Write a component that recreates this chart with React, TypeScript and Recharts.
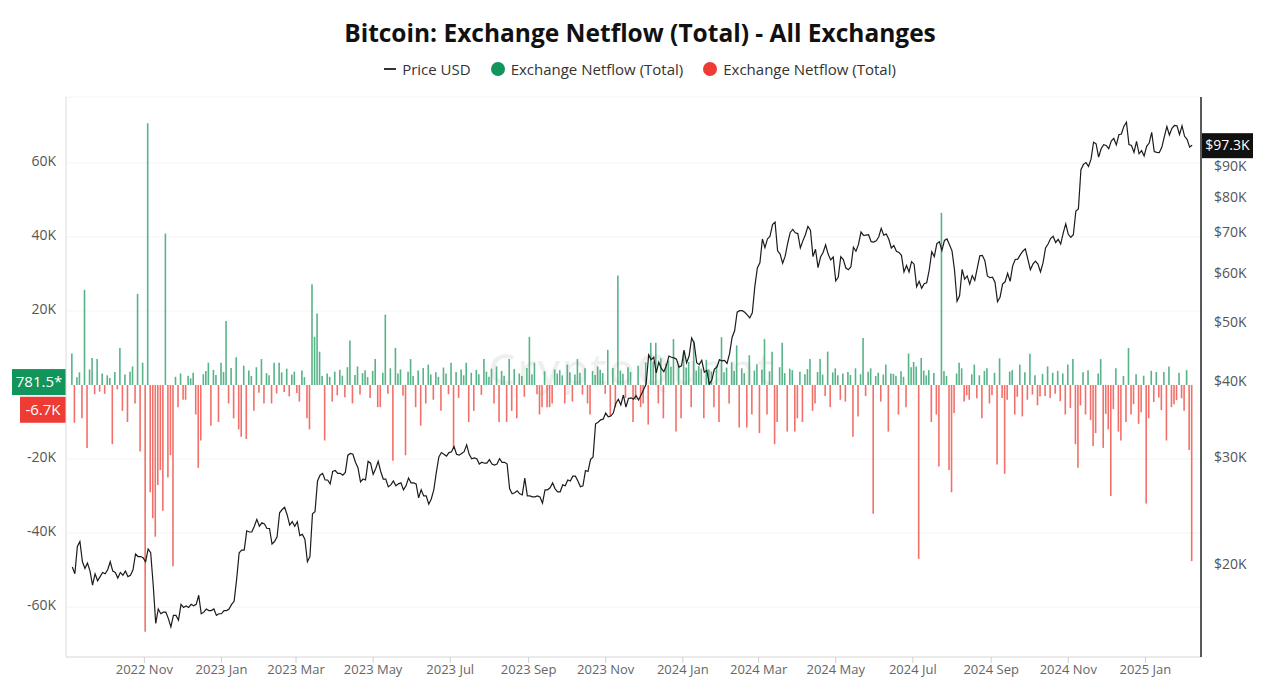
import {
  Bar,
  CartesianGrid,
  Cell,
  ComposedChart,
  Line,
  ReferenceLine,
  XAxis,
  YAxis,
} from "recharts";

// days counted from 2022-09-01; one point every 2 days starting 2022-09-05
const START_DAY = 4;
const STEP = 2;

const MONTH_TICKS = [61, 122, 181, 242, 303, 365, 426, 487, 547, 608, 669, 731, 792, 853];
const MONTH_LABELS = [
  "2022 Nov", "2023 Jan", "2023 Mar", "2023 May", "2023 Jul", "2023 Sep", "2023 Nov",
  "2024 Jan", "2024 Mar", "2024 May", "2024 Jul", "2024 Sep", "2024 Nov", "2025 Jan",
];

const NETFLOW_TICKS = [-60, -40, -20, 20, 40, 60];
const PRICE_TICKS = [20, 30, 40, 50, 60, 70, 80, 90];

// BTC price, thousands USD
const PRICE_K = [
  // 2022 Sep
  19.8, 19.3, 21.4, 21.8, 20.2, 19.7, 20.1, 19.5, 18.5, 19.3, 18.8, 19.1, 19.4,
  // Oct
  19.3, 19.6, 20.2, 19.5, 19.4, 19.0, 19.4, 19.2, 19.5, 19.1, 19.2, 19.6, 20.8, 20.6, 20.6, 20.5,
  // Nov
  20.2, 21.2, 20.9, 18.5, 16.0, 16.9, 16.6, 16.7, 16.7, 16.3, 15.8, 16.5, 16.5, 16.2, 17.2,
  // Dec
  17.0, 17.1, 17.0, 17.2, 17.1, 17.2, 17.8, 16.6, 16.7, 16.9, 16.8, 16.8, 16.9, 16.5, 16.6,
  // 2023 Jan
  16.6, 16.8, 16.8, 16.9, 17.2, 17.4, 18.9, 20.9, 21.1, 21.1, 22.7, 22.6, 22.6, 23.1, 23.7, 23.1,
  // Feb
  23.4, 23.3, 22.9, 22.9, 21.6, 21.8, 22.2, 24.3, 24.6, 24.8, 24.1, 23.2, 23.5, 23.1,
  // Mar
  23.5, 22.3, 22.4, 22.0, 20.2, 20.6, 24.2, 24.4, 27.4, 28.0, 28.2, 27.5, 27.5, 27.1, 28.4,
  // Apr
  28.5, 28.2, 28.2, 28.0, 28.3, 30.2, 30.4, 30.3, 29.4, 28.8, 27.3, 27.6, 27.5, 29.5, 29.3,
  // May
  28.1, 28.7, 29.5, 28.4, 27.6, 27.6, 26.8, 27.0, 27.4, 26.9, 27.1, 27.2, 26.5, 26.9, 27.7, 27.2,
  // Jun
  27.2, 27.1, 25.7, 26.5, 25.9, 25.9, 25.1, 25.6, 26.5, 28.3, 30.0, 30.5, 30.3, 30.1, 30.5,
  // Jul
  30.6, 31.2, 30.3, 30.2, 30.4, 30.6, 31.4, 30.3, 29.8, 29.9, 29.8, 29.2, 29.4, 29.3, 29.3,
  // Aug
  29.7, 29.2, 29.1, 29.2, 29.8, 29.4, 29.4, 29.2, 26.6, 26.1, 26.2, 26.4, 26.1, 26.0, 27.7, 25.9,
  // Sep
  25.9, 25.8, 25.8, 25.9, 25.8, 25.2, 26.5, 26.5, 26.7, 27.2, 26.6, 26.3, 26.3, 27.0, 26.9,
  // Oct
  27.5, 27.4, 27.9, 27.9, 27.4, 26.8, 26.9, 28.5, 28.4, 29.7, 30.0, 34.0, 34.2, 34.5, 34.6,
  // Nov
  35.4, 34.9, 35.0, 35.4, 36.7, 37.3, 36.5, 37.9, 36.2, 37.4, 37.5, 37.3, 37.8, 37.2, 37.9,
  // Dec
  38.7, 39.5, 44.1, 43.3, 43.7, 41.2, 42.9, 41.9, 41.4, 42.3, 43.9, 43.7, 43.6, 43.4, 42.1, 42.3,
  // 2024 Jan
  44.9, 42.8, 43.9, 47.0, 46.1, 42.8, 42.5, 43.2, 41.3, 41.6, 39.5, 40.1, 41.8, 42.1, 43.3,
  // Feb
  43.1, 43.2, 42.7, 44.3, 47.1, 48.3, 51.8, 52.1, 52.1, 51.8, 51.3, 50.7, 51.7, 57.1, 61.2,
  // Mar
  62.4, 68.3, 66.1, 68.3, 69.0, 72.1, 72.8, 65.3, 64.5, 62.3, 64.0, 67.2, 70.0, 70.8, 69.9,
  // Apr
  69.7, 66.0, 67.8, 69.4, 71.6, 70.6, 63.9, 65.7, 61.3, 63.8, 64.9, 66.8, 64.5, 63.1, 63.8,
  // May
  58.3, 59.1, 63.9, 63.2, 61.2, 60.8, 61.5, 66.2, 65.2, 66.9, 70.1, 69.2, 69.3, 69.4, 67.6, 67.5,
  // Jun
  67.8, 68.8, 71.1, 69.3, 69.6, 68.2, 66.0, 66.6, 65.2, 64.9, 64.2, 60.3, 61.8, 60.3, 62.7,
  // Jul
  62.1, 57.0, 58.2, 56.7, 57.7, 57.9, 60.8, 65.1, 63.9, 67.1, 67.6, 65.4, 67.9, 68.3, 66.8,
  // Aug
  65.3, 60.7, 54.0, 55.1, 60.9, 58.7, 59.4, 57.6, 59.5, 58.4, 61.2, 64.1, 64.2, 62.9, 59.4, 59.0,
  // Sep
  59.1, 58.0, 53.9, 54.8, 57.6, 58.1, 60.0, 58.2, 61.7, 63.2, 63.3, 64.3, 65.2, 65.8, 63.3,
  // Oct
  60.8, 62.1, 62.8, 62.1, 60.3, 62.4, 66.0, 67.0, 68.4, 69.0, 67.4, 68.2, 67.0, 69.9, 72.3,
  // Nov
  69.5, 68.7, 69.4, 75.9, 76.5, 88.7, 90.5, 91.1, 89.8, 92.3, 98.4, 97.8, 93.0, 96.0, 97.5,
  // Dec
  97.2, 96.0, 98.8, 99.8, 97.4, 101.2, 101.5, 104.5, 106.1, 97.5, 97.2, 94.7, 98.7, 94.2, 95.3, 93.4,
  // 2025 Jan
  96.9, 98.1, 102.1, 95.0, 94.7, 94.6, 96.5, 100.5, 104.4, 101.1, 103.7, 104.8, 104.7, 101.3, 104.7,
  // Feb
  100.6, 99.5, 96.6, 97.3,
];

// exchange netflow, thousands BTC
const NETFLOW_K = [
  8.5, -10.2, 2.1, 3.4, -9, 25.7, -17, 4.2, 7.3, -2.5,
  7, -1.8, 3.1, -2.4, 2.6, 1.9, -16, 3.5, -1.2, 10,
  -7, 2.8, -10, 3.6, 5, -5, 24.6, -18, 6, -66.7,
  70.7, -29, -36, -41, -27, -23, -34, 40.9, -25, -19,
  -49, 2.2, -6, 3.1, -4, -4, 2.5, 1.8, 3.3, -8,
  -22.4, -15, 2.9, 3.8, 6, -11, 4.1, 2.7, -10, 6,
  3.5, 17.3, -5, 4.6, -9, 7.5, -12, -14, 5.2, -14.6,
  3.9, 2.4, -7, 4.8, -2.1, 7, -5, 3.2, 2.6, -5,
  6, -2.3, 6, 3.4, -1.9, 4.4, -3.1, 2.8, 3.6, -2.2,
  -4.5, 3.9, 2.1, -9, -12, 27.2, 13, 19.3, 9, 2.4,
  -15, 3.1, 2.2, -4.5, 3.6, -2.8, 4.1, 2.5, -3.3, 4.8,
  12, -5, 2.7, 5, -2.6, 3.2, 4, 2.1, -3.5, 3.8,
  7, -6, -6, 3.3, 19, -2.4, 4.5, -20.5, 10, 3.1,
  4.2, -2.9, -19, 3.6, 7, 2.4, -6, 3.9, -11, 4.6,
  -5, 5.5, 2.8, -4, 3.4, 2.2, -7, 4.7, 3.1, -2.5,
  6, -17, 3.5, -3.5, 4.2, 2.6, 6, -10, 3.3, -7,
  4.1, 2.9, -2.7, 7, 3.6, 2.2, 4.4, -5, 5, -10,
  3.8, 2.5, -10, 7, -7, 4.3, -9, 3.1, 2.4, -3.2,
  4.6, 13, 2.9, 6, -2.5, -8, -6, 3.7, -6, -6,
  -5, 4.2, 3.1, 4, 2.6, -5, 5.5, 3.4, -4.5, 2.8,
  7, 3.3, -2.6, 4.5, -5, -8, 3.8, 2.7, 5, 4.1,
  3.2, -2.4, 9.5, -8.5, 4.6, -6, 29.6, 3.9, 3, -3.5,
  4.8, 3.5, -10, -4, 5.2, -6, -5, 6.1, -10.7, 11.4,
  6.3, 11.4, -5, 7.2, -9, 5.8, 6.6, 4.9, 12.4, -12.6,
  5.4, -9, 9, 4.7, 6.2, -6, 12, 3.9, 5.1, 4.4,
  -9, 6.8, 4.2, 3.6, -6, 5.3, -10, 12.9, 3.4, 4.7,
  -5, 6.1, 3.8, 10.7, -11.5, 4.5, 3.2, -11.5, 8, -8,
  3.9, 5.6, -13, 4.1, 12.4, -8, 3.7, 9, -16, -10,
  4.8, 11.4, 3.2, -12.6, 4.4, 4, -12.6, -9, 3.6, -10,
  2.9, 4.3, 7, -7, -5, 3.5, 7, 2.8, -3, 9,
  -6, 3.4, 4.5, 2.6, -4, 3.1, -4.5, 3.5, 2.7, -14,
  4.5, -8.5, 2.9, 12.7, -3, 3.6, 4.5, -34.8, 2.4, 3.3,
  -4.5, 2.8, 5.5, -12.6, 3.1, 3, 2.5, -8, 3.7, 2.2,
  -6, 8.5, 4.8, 6.2, 5, -47, 7.3, 3.9, 2.6, 4,
  -10, 3.2, -8, -22, 46.5, 3.8, 2.4, -23, -29, -7.6,
  3.1, 6, 4.5, -4.5, -2.8, -4, 2.9, 5.5, -3.6, 2.6,
  -9, 3.8, 4.5, -5, -2.7, 3.3, -21.5, 7.2, -3.5, -24,
  -4, 3.6, 4, -8, -3.2, 5.5, -8.5, 3.4, -4, 8.4,
  -2.6, 2.6, -5.5, -3.1, 3, -3, 5, -3.5, 3.3, -2.4,
  3.8, -4.4, 3.1, -8, 5.5, -6.2, 7, -16, -22.4, -5.5,
  3.4, -8, 4, -9.5, -16.5, -13, 3.1, 7, -17, -7.8,
  -12, -30, -6.5, 4.5, -12.6, -15, 2.4, -10, 10, -8,
  -5.2, 2.9, -10.5, -7.4, 2.5, -32, -9, 3.8, -4.6, 3.5,
  -3.4, -6.8, 3.5, -15, 5, -6, -5.2, -4.1, 3.3, -3.6,
  -7, 4, -17.6, -47.6,
];

const GREEN = "#3aa673";
const RED = "#f0574f";

const data = NETFLOW_K.map((v, i) => ({
  t: START_DAY + i * STEP,
  netflow: v,
  price: PRICE_K[i],
}));

function LeftBadge(props: any) {
  const { viewBox, text, fill, w } = props;
  if (!viewBox) return null;
  const { x, y } = viewBox;
  return (
    <g>
      <rect x={x - w} y={y - 13} width={w} height={26} fill={fill} />
      <text
        x={x - w / 2}
        y={y + 1}
        fill="#fff"
        fontSize={15}
        textAnchor="middle"
        dominantBaseline="middle"
      >
        {text}
      </text>
    </g>
  );
}

function RightBadge(props: any) {
  const { viewBox, text } = props;
  if (!viewBox) return null;
  const x = viewBox.x + viewBox.width;
  const y = viewBox.y;
  return (
    <g>
      <rect x={x + 1} y={y - 12} width={51} height={25} fill="#111" />
      <text
        x={x + 26.5}
        y={y + 1}
        fill="#fff"
        fontSize={14}
        textAnchor="middle"
        dominantBaseline="middle"
      >
        {text}
      </text>
    </g>
  );
}

const legendItem = { display: "flex", alignItems: "center", gap: 6 } as const;
const dot = (c: string) => ({
  width: 14,
  height: 14,
  borderRadius: 7,
  background: c,
  display: "inline-block",
});

export default function App() {
  return (
    <div
      style={{
        position: "absolute",
        left: 0,
        top: 0,
        width: 1280,
        height: 690,
        background: "#fff",
        fontFamily: "'Open Sans', sans-serif",
        overflow: "hidden",
      }}
    >
      <div
        style={{
          position: "absolute",
          top: 15,
          width: 1280,
          textAlign: "center",
          fontSize: 24.5,
          fontWeight: 700,
          color: "#111",
          lineHeight: "36px",
        }}
      >
        Bitcoin: Exchange Netflow (Total) - All Exchanges
      </div>
      <div
        style={{
          position: "absolute",
          top: 58,
          width: 1280,
          display: "flex",
          justifyContent: "center",
          gap: 20,
          fontSize: 15,
          color: "#333",
          lineHeight: "22px",
        }}
      >
        <span style={legendItem}>
          <span style={{ width: 12, height: 1.5, background: "#333", display: "inline-block" }} />
          Price USD
        </span>
        <span style={legendItem}>
          <span style={dot("#12955a")} />
          Exchange Netflow (Total)
        </span>
        <span style={legendItem}>
          <span style={dot("#ee3b33")} />
          Exchange Netflow (Total)
        </span>
      </div>
      <div
        style={{
          position: "absolute",
          left: 488,
          top: 338,
          fontSize: 44,
          fontWeight: 600,
          color: "rgba(0,0,0,0.06)",
          letterSpacing: 1,
        }}
      >
        CryptoQuant
      </div>
      <div style={{ position: "absolute", left: 0, top: 0 }}>
        <ComposedChart
          width={1280}
          height={690}
          data={data}
          margin={{ top: 97, right: 0, bottom: 3, left: 6 }}
        >
          <CartesianGrid yAxisId="left" vertical={false} stroke="#f4f4f4" />
          <XAxis
            dataKey="t"
            type="number"
            domain={[-1, 897]}
            ticks={MONTH_TICKS}
            interval={0}
            tickFormatter={(v) => MONTH_LABELS[MONTH_TICKS.indexOf(v)] ?? ""}
            height={30}
            axisLine={{ stroke: "#dcdcdc" }}
            tickLine={{ stroke: "#d0d0d0" }}
            tick={{ fontSize: 13, fill: "#666" }}
          />
          <YAxis
            yAxisId="left"
            domain={[-73.5, 77.8]}
            ticks={NETFLOW_TICKS}
            interval={0}
            width={60}
            tickFormatter={(v) => `${v}K`}
            axisLine={{ stroke: "#dcdcdc" }}
            tickLine={false}
            tickMargin={4}
            tick={{ fontSize: 14, fill: "#555", dy: -2 }}
          />
          <YAxis
            yAxisId="right"
            orientation="right"
            scale="log"
            domain={[14.1, 116.7]}
            allowDataOverflow
            ticks={PRICE_TICKS}
            interval={0}
            width={79}
            tickFormatter={(v) => `$${v}K`}
            axisLine={{ stroke: "#222", strokeWidth: 1.5 }}
            tickLine={false}
            tickMargin={7}
            tick={{ fontSize: 14, fill: "#555" }}
          />
          <Bar
            yAxisId="left"
            dataKey="netflow"
            barSize={1.6}
            fillOpacity={0.85}
            isAnimationActive={false}
          >
            {data.map((d, i) => (
              <Cell key={i} fill={d.netflow >= 0 ? GREEN : RED} />
            ))}
          </Bar>
          <Line
            yAxisId="right"
            dataKey="price"
            type="linear"
            stroke="#1c1c1c"
            strokeWidth={1.2}
            dot={false}
            isAnimationActive={false}
          />
          <ReferenceLine
            yAxisId="left"
            y={0.7815}
            stroke="none"
            label={(p: any) => (
              <LeftBadge {...p} text="781.5*" fill="#12955a" w={54} />
            )}
          />
          <ReferenceLine
            yAxisId="left"
            y={-6.7}
            stroke="none"
            label={(p: any) => (
              <LeftBadge {...p} text="-6.7K" fill="#ee3b33" w={46} />
            )}
          />
          <ReferenceLine
            yAxisId="right"
            y={97.3}
            stroke="none"
            label={(p: any) => <RightBadge {...p} text="$97.3K" />}
          />
        </ComposedChart>
      </div>
    </div>
  );
}
